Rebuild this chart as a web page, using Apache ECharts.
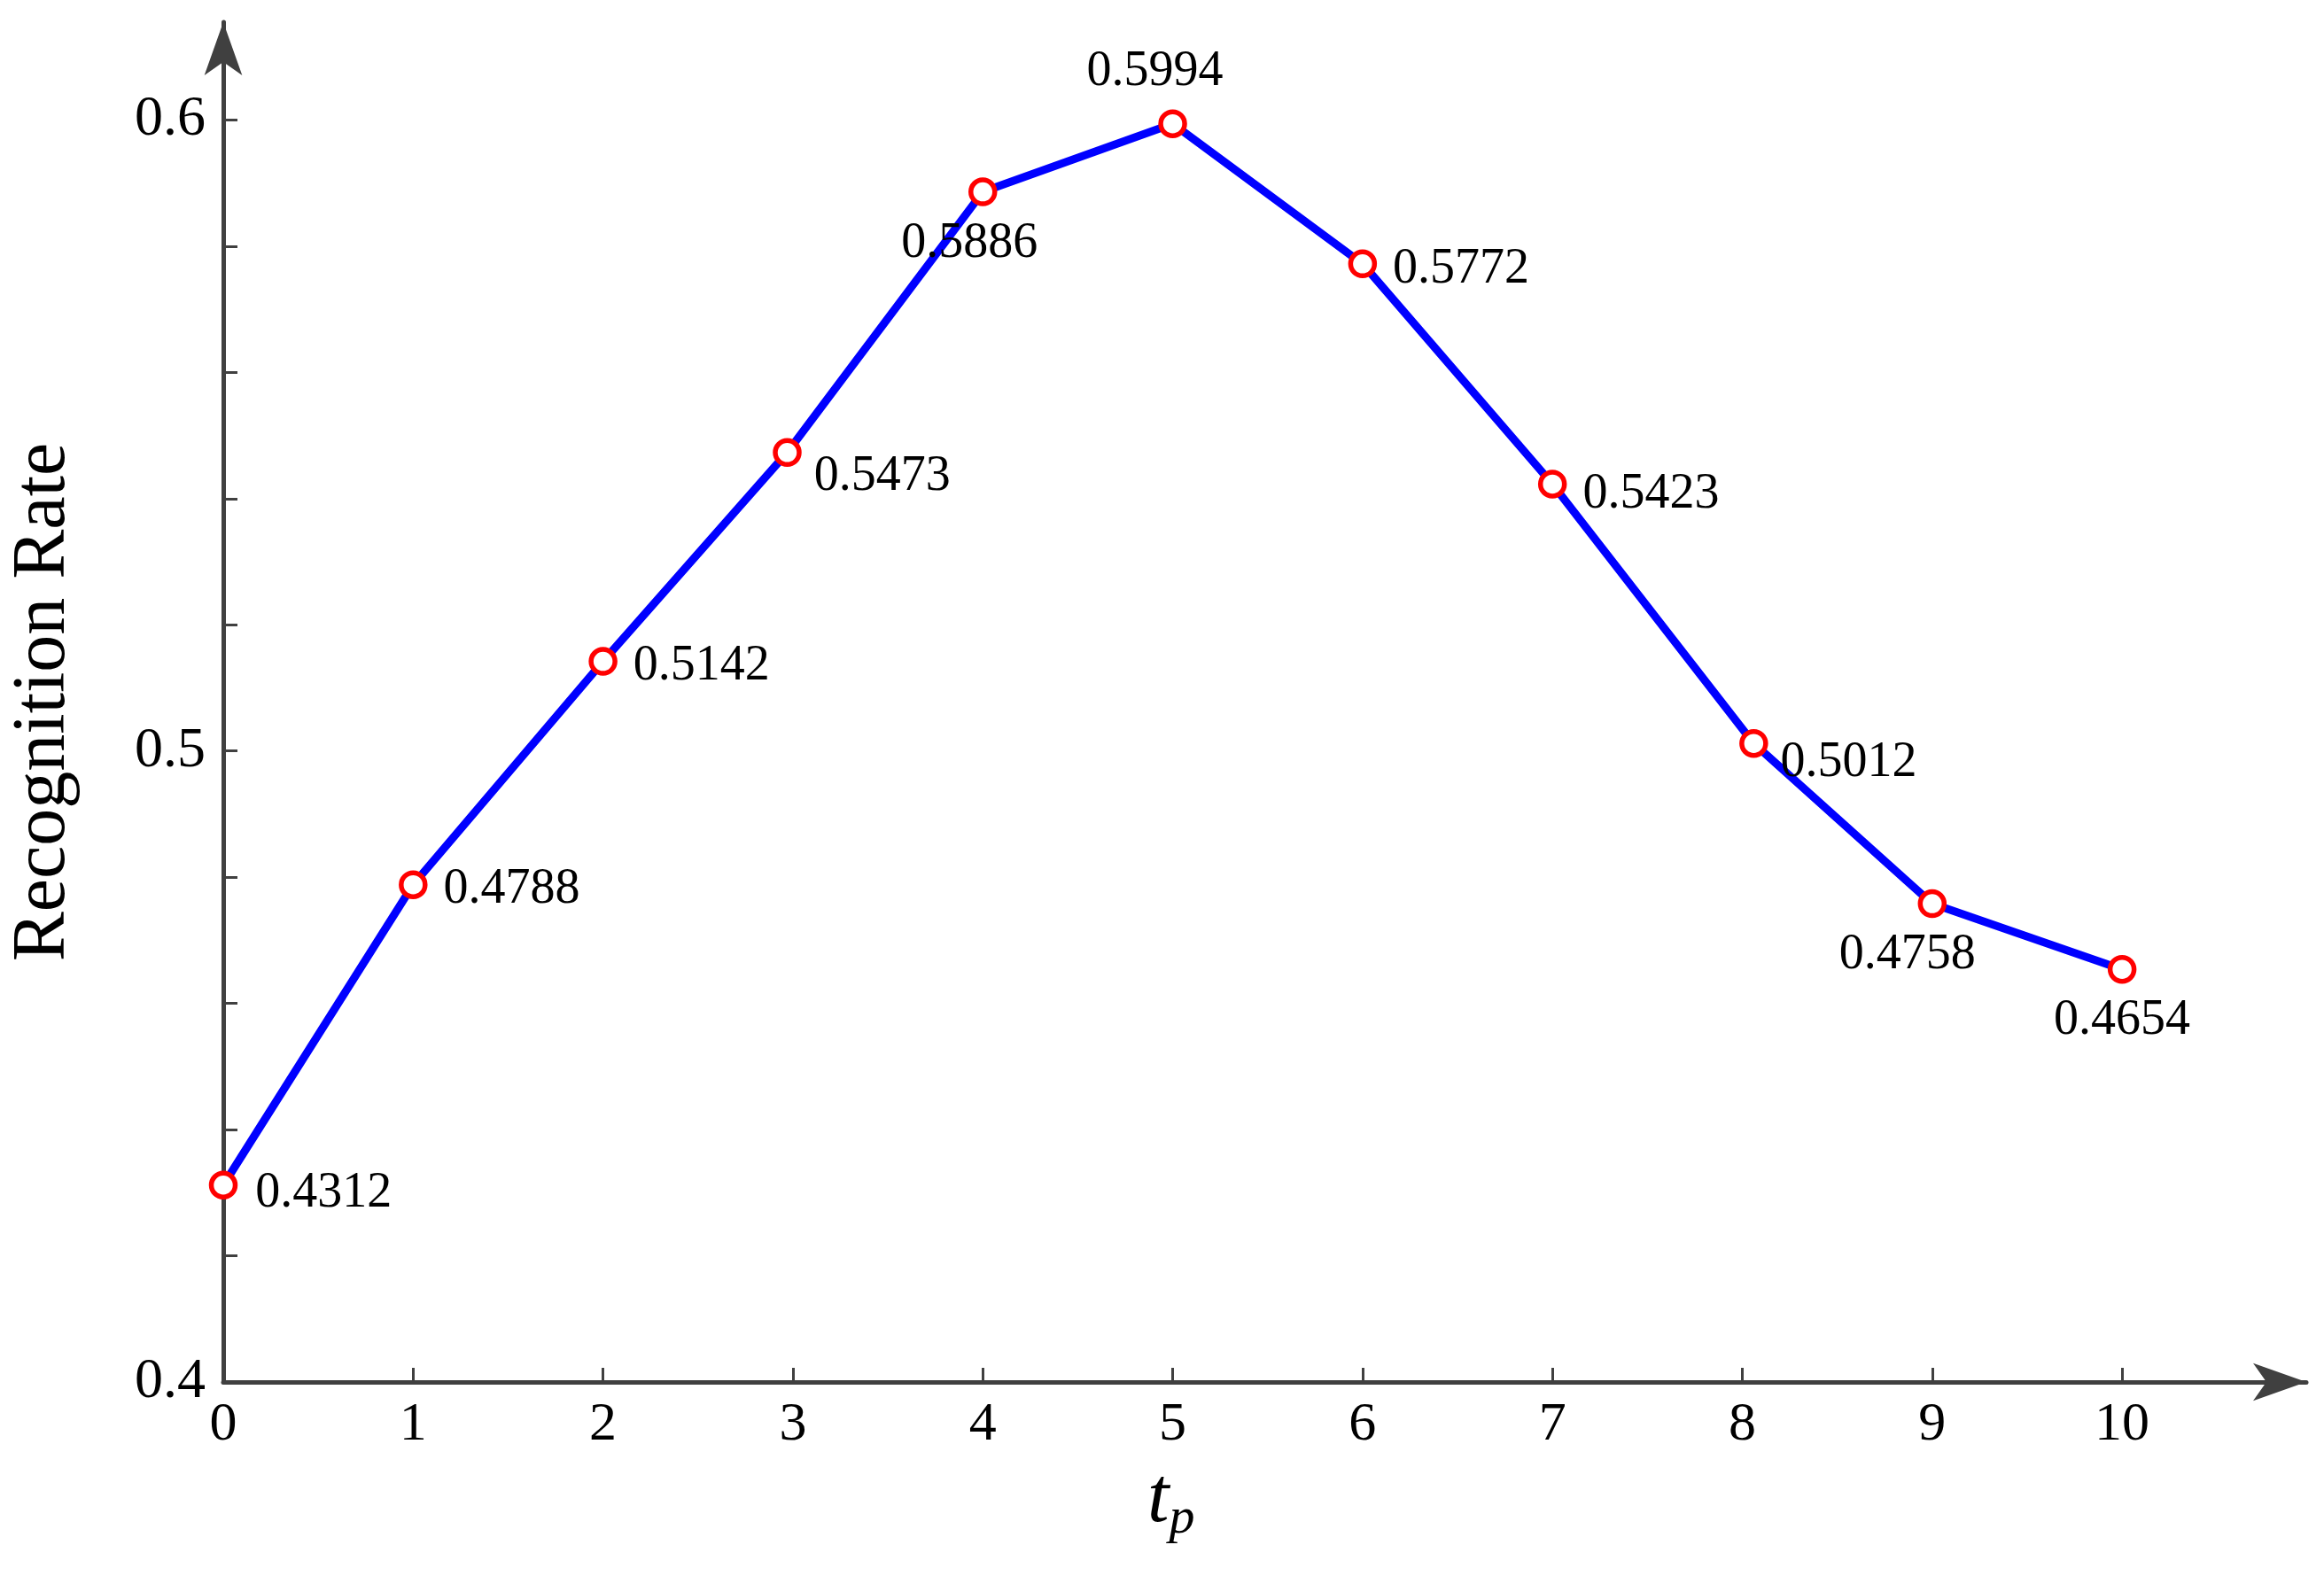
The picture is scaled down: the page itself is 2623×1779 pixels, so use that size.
<!DOCTYPE html>
<html>
<head>
<meta charset="utf-8">
<title>Recognition Rate</title>
<script src="https://cdn.jsdelivr.net/npm/echarts@6/dist/echarts.min.js"></script>
<style>html,body{margin:0;background:#fff}#main{width:2623px;height:1779px}</style>
</head>
<body>
<div id="main"></div>
<script>
// data
var tpValues = [0, 1, 2, 2.97, 4, 5, 6, 7, 8.06, 9, 10];
var rates = [0.4312, 0.4788, 0.5142, 0.5473, 0.5886, 0.5994, 0.5772, 0.5423, 0.5012, 0.4758, 0.4654];
var xTicks = [0, 1, 2, 3, 4, 5, 6, 7, 8, 9, 10];
var yTicks = [0.42, 0.44, 0.46, 0.48, 0.5, 0.52, 0.54, 0.56, 0.58, 0.6];
var yLabels = [0.4, 0.5, 0.6];
// label placement per point: [position, dx, dy]
var labelPos = [
  ['right', 6, 10], ['right', 4, 6], ['right', 4, 6], ['right', 0, 28], ['bottom', -15, 0],
  ['top', -20, 0], ['right', 4, 6], ['right', 4, 12], ['right', 0, 22], ['bottom', -28, 0], ['bottom', 0, 0]
];

var font = 'Liberation Serif';
var axisColor = '#404040';
var pts = tpValues.map(function (x, i) {
  return {
    value: [x, rates[i]],
    label: {position: labelPos[i][0], offset: [labelPos[i][1], labelPos[i][2]]}
  };
});

var chart = echarts.init(document.getElementById('main'));
chart.setOption({
  animation: false,
  grid: {left: 252, right: 20, top: 25, bottom: 219},
  xAxis: {
    type: 'value', min: 0, max: 10.97,
    axisLine: {lineStyle: {color: axisColor, width: 5}, symbol: ['none', 'arrow'], symbolSize: [32, 60]},
    axisTick: {inside: true, length: 16, lineStyle: {width: 3}, customValues: xTicks},
    axisLabel: {customValues: xTicks, fontFamily: font, fontSize: 62, color: '#000', margin: 18},
    splitLine: {show: false}
  },
  yAxis: {
    type: 'value', min: 0.4, max: 0.6155,
    name: 'Recognition Rate', nameLocation: 'middle', nameGap: 160,
    nameTextStyle: {fontFamily: font, fontSize: 84, color: '#000'},
    axisLine: {lineStyle: {color: axisColor, width: 5}, symbol: ['none', 'arrow'], symbolSize: [32, 60]},
    axisTick: {inside: true, length: 16, lineStyle: {width: 3}, customValues: yTicks},
    axisLabel: {customValues: yLabels, fontFamily: font, fontSize: 64, color: '#000', margin: 20,
      formatter: function (v) { return String(+v.toFixed(1)); }},
    splitLine: {show: false}
  },
  graphic: [{
    type: 'text', left: 1295, top: 1650,
    style: {
      text: '{t|t}{p|p}',
      rich: {
        t: {fontFamily: font, fontStyle: 'italic', fontSize: 88, fill: '#000'},
        p: {fontFamily: font, fontStyle: 'italic', fontSize: 58, fill: '#000', padding: [42, 0, 0, 0]}
      }
    }
  }],
  series: [{
    type: 'line', data: pts,
    lineStyle: {color: '#0000ff', width: 9},
    symbol: 'circle', symbolSize: 27,
    itemStyle: {color: '#fff', borderColor: '#ff0000', borderWidth: 5.5},
    label: {show: true, fontFamily: font, fontSize: 56, color: '#000', distance: 14,
      formatter: function (p) { return p.value[1].toFixed(4); }},
    z: 3
  }]
});
</script>
</body>
</html>
